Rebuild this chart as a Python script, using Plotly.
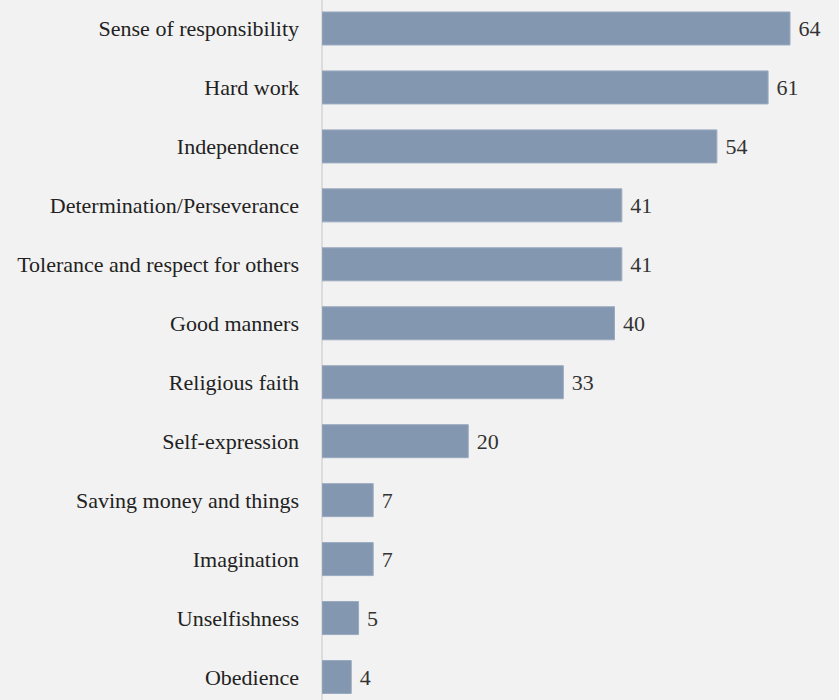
import plotly.graph_objects as go

# Qualities considered important for children to learn (% of respondents)
qualities = [
    "Sense of responsibility",
    "Hard work",
    "Independence",
    "Determination/Perseverance",
    "Tolerance and respect for others",
    "Good manners",
    "Religious faith",
    "Self-expression",
    "Saving money and things",
    "Imagination",
    "Unselfishness",
    "Obedience",
]
shares = [64, 61, 54, 41, 41, 40, 33, 20, 7, 7, 5, 4]

BG = "#f2f2f2"
BAR = "#8497b0"
FONT = "Liberation Serif"

fig = go.Figure(
    go.Bar(
        x=shares,
        y=qualities,
        orientation="h",
        width=0.56,
        marker=dict(color=BAR, line=dict(color="#9aaabf", width=1)),
        text=["\u00a0" + str(v) for v in shares],
        textposition="outside",
        textfont=dict(family=FONT, size=22, color="#333333"),
        cliponaxis=False,
        hoverinfo="skip",
    )
)

fig.update_layout(
    width=839,
    height=700,
    paper_bgcolor=BG,
    plot_bgcolor=BG,
    margin=dict(l=322, r=0, t=0, b=0),
    showlegend=False,
    font=dict(family=FONT, size=22, color="#222222"),
)
fig.update_xaxes(
    range=[0, 70.7],
    showgrid=False,
    showticklabels=False,
    zeroline=True,
    zerolinecolor="#dcdcdc",
    zerolinewidth=2,
)
fig.update_yaxes(
    type="category",
    range=[11.39, -0.483],
    showgrid=False,
    ticks="",
    ticklabelstandoff=22,
    tickfont=dict(family=FONT, size=22, color="#222222"),
)

fig.write_html("out.html")
